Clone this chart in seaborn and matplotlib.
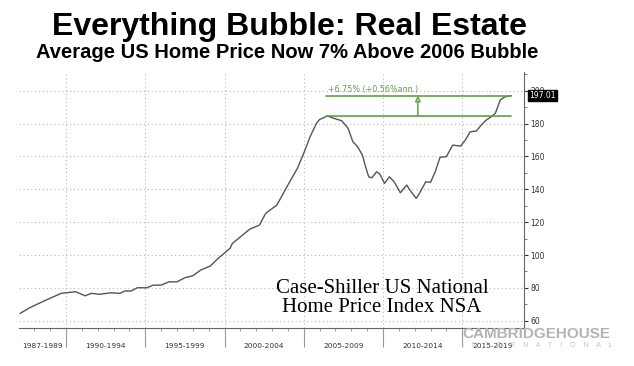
import numpy as np
import pandas as pd
import matplotlib
matplotlib.use("Agg")
import matplotlib.pyplot as plt
import matplotlib.transforms as mtransforms
import seaborn as sns

# ---- data ----
years = [1987.1, 1987.7, 1988.6, 1989.2, 1989.7, 1990.6, 1991.2, 1991.6, 1992.1, 1992.8,
         1993.4, 1993.7, 1994.1, 1994.5, 1995.1, 1995.5, 1996.0, 1996.5, 1997.0, 1997.5,
         1998.0, 1998.5, 1999.1, 1999.6, 1999.9, 2000.35, 2000.5, 2001.6, 2002.2, 2002.6,
         2003.3, 2004.0, 2004.6, 2005.0, 2005.4, 2005.8, 2006.0, 2006.5, 2006.9, 2007.4,
         2007.8, 2008.1, 2008.4, 2008.7, 2008.9, 2009.1, 2009.3, 2009.6, 2009.8, 2010.1,
         2010.4, 2010.7, 2011.1, 2011.5, 2011.7, 2012.1, 2012.3, 2012.7, 2013.0, 2013.3,
         2013.6, 2014.0, 2014.4, 2014.9, 2015.2, 2015.5, 2015.9, 2016.2, 2016.5, 2016.9,
         2017.1, 2017.4, 2017.7, 2018.1]
index_values = [64.5, 67.9, 72.0, 74.6, 76.7, 77.7, 75.2, 76.7, 76.1, 77.0,
                76.7, 78.1, 78.1, 80.1, 80.1, 81.7, 81.7, 83.7, 83.7, 86.2,
                87.4, 90.9, 93.3, 98.0, 100.4, 104.1, 107.1, 115.8, 118.2, 125.4,
                130.4, 142.6, 152.8, 161.9, 172.0, 180.1, 182.5, 184.6, 183.2, 181.7,
                177.1, 169.0, 165.9, 160.9, 153.8, 147.6, 147.0, 150.7, 149.3, 143.6,
                147.6, 144.6, 137.9, 142.6, 139.5, 134.5, 137.5, 144.6, 144.2, 150.7,
                159.5, 159.9, 166.9, 166.3, 170.0, 175.0, 175.5, 179.1, 182.0, 184.6,
                186.5, 194.3, 196.3, 197.0]

period_labels = ["1987-1989", "1990-1994", "1995-1999", "2000-2004",
                 "2005-2009", "2010-2014", "2015-2019"]
period_bounds = [1987, 1990, 1995, 2000, 2005, 2010, 2015, 2018.9]
y_ticks = [60, 80, 100, 120, 140, 160, 180, 200]

bubble_peak = 184.6
last_value = 197.01
peak_start_year = 2006.4
arrow_year = 2012.2
gain_label = "+6.75% (+0.56%ann.)"

title = "Everything Bubble: Real Estate"
subtitle = "Average US Home Price Now 7% Above 2006 Bubble"
box_text = "Case-Shiller US National\nHome Price Index NSA"

# ---- styling ----
sns.set_theme(style="white")
plt.rcParams["font.family"] = ["DejaVu Sans"]

GREEN = "#62a043"
LINE = "#555555"
GRID = "#b8b8b8"

fig = plt.figure(figsize=(6.34, 3.66), dpi=100)
ax = fig.add_axes([0.0292, 0.1038, 0.7973, 0.6995])

df = pd.DataFrame({"year": years, "value": index_values})
sns.lineplot(data=df, x="year", y="value", ax=ax, color=LINE, linewidth=1.0)

ax.set_xlim(period_bounds[0], period_bounds[-1])
ax.set_ylim(55.6, 211.4)
ax.set_xlabel("")
ax.set_ylabel("")

# grid
for v in y_ticks:
    ax.axhline(v, color=GRID, lw=0.8, ls=(0, (1, 2.5)), zorder=0)
for b in period_bounds[1:-1]:
    ax.axvline(b, color=GRID, lw=0.8, ls=(0, (1, 2.5)), zorder=0)

# spines
for s in ["top", "left"]:
    ax.spines[s].set_visible(False)
for s in ["right", "bottom"]:
    ax.spines[s].set_visible(True)
    ax.spines[s].set_color("#666666")
    ax.spines[s].set_linewidth(0.8)

# y axis on the right
ax.yaxis.tick_right()
ax.set_yticks(y_ticks)
ax.set_yticks(np.arange(60, 211, 10), minor=True)
ax.tick_params(axis="y", which="major", right=True, length=3, width=0.8, color="#333333",
               labelsize=5.5, labelcolor="#333333", pad=1.5)
ax.tick_params(axis="y", which="minor", right=True, length=2, width=0.6, color="#666666")

# x axis: separators as long major ticks, yearly minor ticks
ax.set_xticks(period_bounds[1:-1])
ax.set_xticklabels([])
ax.set_xticks(np.arange(1988, 2019, 1), minor=True)
ax.tick_params(axis="x", which="major", bottom=True, length=14, width=0.8, color="#999999")
ax.tick_params(axis="x", which="minor", bottom=True, length=2.5, width=0.6, color="#888888")

trans = mtransforms.blended_transform_factory(ax.transData, ax.transAxes)
for lab, a, b in zip(period_labels, period_bounds[:-1], period_bounds[1:]):
    ax.text((a + b) / 2, -0.07, lab, transform=trans, ha="center", va="center",
            fontsize=5.3, color="#333333", zorder=6)

# green annotation
end_year = years[-1]
ax.plot([peak_start_year, end_year], [bubble_peak, bubble_peak], color=GREEN, lw=1.2, zorder=3)
ax.plot([peak_start_year, end_year], [last_value, last_value], color=GREEN, lw=1.2, zorder=3)
ax.annotate("", xy=(arrow_year, last_value), xytext=(arrow_year, bubble_peak),
            arrowprops=dict(arrowstyle="-|>", color=GREEN, fc="white", lw=1.1,
                            mutation_scale=8, shrinkA=0, shrinkB=0), zorder=4)
ax.text(peak_start_year + 0.1, last_value + 0.8, gain_label, color=GREEN,
        fontsize=5.8, ha="left", va="bottom")

# last value tag
ytrans = mtransforms.blended_transform_factory(ax.transAxes, ax.transData)
ax.text(1.01, last_value, f"{last_value:.2f}", transform=ytrans, ha="left", va="center",
        fontsize=5.5, color="white", zorder=10,
        bbox=dict(boxstyle="square,pad=0.15", fc="black", ec="black"))

# in-chart caption
ax.text(2009.95, 73.8, box_text, ha="center", va="center", fontsize=15,
        family=["Liberation Serif"], color="black", linespacing=1.05, zorder=5)

# titles
fig.text(0.457, 1 - 35 / 366, title, ha="center", va="baseline", fontsize=23,
         fontweight="bold", family=["Liberation Sans"], color="black")
fig.text(0.453, 1 - 58 / 366, subtitle, ha="center", va="baseline", fontsize=14.5,
         fontweight="bold", family=["Liberation Sans"], color="black")

# watermark
fig.text(462 / 634, 1 - 338 / 366, "CAMBRIDGEHOUSE", ha="left", va="baseline", fontsize=11,
         fontweight="bold", family=["Liberation Sans"], color="#b3b3b3", zorder=0)
fig.text(462 / 634, 1 - 347 / 366, "I    N    T    E    R    N    A    T    I    O    N    A    L",
         ha="left", va="baseline", fontsize=5, family=["Liberation Sans"], color="#c4c4c4", zorder=0)

fig.savefig("out.png", dpi=100, facecolor="white")
